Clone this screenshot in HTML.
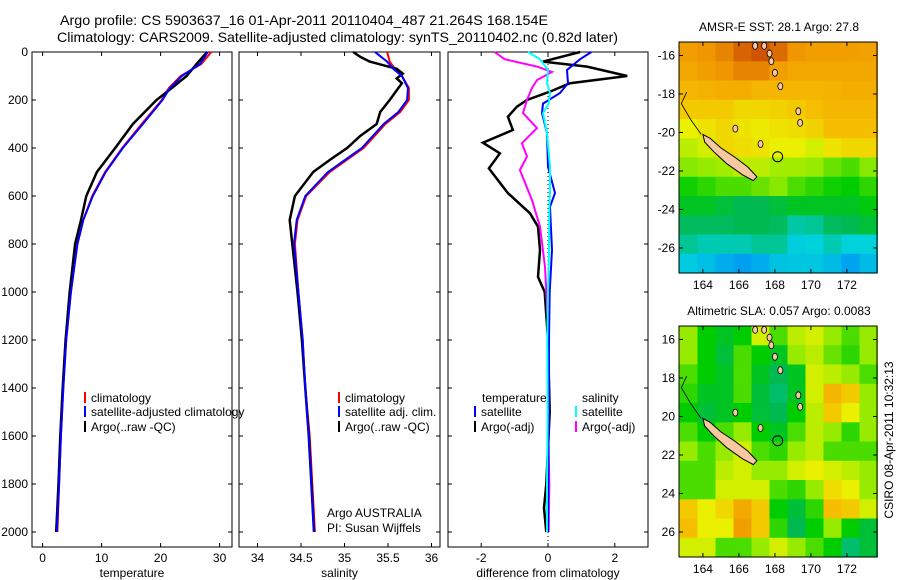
<!DOCTYPE html>
<html><head><meta charset="utf-8">
<style>
body{margin:0;background:#fff;}
svg{display:block;font-family:"Liberation Sans",sans-serif;}
</style></head>
<body>
<svg id="c" width="900" height="580" viewBox="0 0 900 580" xmlns="http://www.w3.org/2000/svg">
<rect width="900" height="580" fill="#fff"/>
<text x="60" y="25" font-size="14" textLength="488" lengthAdjust="spacingAndGlyphs">Argo profile: CS 5903637_16 01-Apr-2011 20110404_487 21.264S 168.154E</text>
<text x="57" y="42" font-size="14" textLength="561" lengthAdjust="spacingAndGlyphs">Climatology: CARS2009. Satellite-adjusted climatology: synTS_20110402.nc (0.82d later)</text>
<g id="g"></g>
</svg>
<script>
// ---------- data ----------
const depthTicks=[0,200,400,600,800,1000,1200,1400,1600,1800,2000];
const tempTicks=[0,10,20,30];
const salTicks=[34,34.5,35,35.5,36];
const salTickLabels=["34","34.5","35","35.5","36"];
const diffTicks=[-2,0,2];
const lonTicks=[164,166,168,170,172];
const latTicks=[-16,-18,-20,-22,-24,-26];

const depthsT=[0,50,100,150,200,300,400,500,600,700,800,1000,1200,1400,1600,1800,2000];
const tempClim=[28.6,26.9,23.4,21.4,20.2,16.8,13.5,10.6,8.4,6.9,5.9,4.8,4.0,3.5,3.1,2.8,2.5];
const tempSat=[28.0,26.7,23.6,21.6,20.3,17.0,13.6,10.7,8.5,6.9,5.9,4.8,4.0,3.5,3.1,2.8,2.4];
const tempArgo=[27.9,26.1,24.4,21.9,19.3,15.3,12.3,9.2,7.4,6.5,5.5,4.6,3.9,3.4,3.0,2.7,2.3];

const depthsS=[0,40,70,100,150,200,250,300,400,500,600,700,800,1000,1200,1400,1600,1800,2000];
const salClim=[35.49,35.52,35.58,35.66,35.74,35.74,35.64,35.47,35.22,34.83,34.56,34.46,34.43,34.47,34.52,34.55,34.6,34.63,34.66];
const salSat=[35.35,35.49,35.56,35.66,35.73,35.72,35.62,35.45,35.2,34.81,34.55,34.45,34.42,34.47,34.52,34.55,34.59,34.62,34.65];
const depthsSA=[0,20,40,70,90,110,130,150,200,250,300,350,400,450,500,600,700,800,1000,1200,1400,1600,1800,2000];
const salArgo=[35.1,35.18,35.29,35.6,35.67,35.6,35.66,35.62,35.52,35.41,35.37,35.18,35.03,34.83,34.64,34.43,34.37,34.4,34.46,34.51,34.55,34.59,34.62,34.65];

const depthsTD=[0,40,61,100,130,165,200,228,270,325,378,422,485,588,672,728,825,937,1000,1200,1500,1800,1900,2000];
const tDiffArgo=[0.96,-0.15,1.17,2.37,0.66,0.06,-0.63,-0.93,-1.2,-1.05,-1.95,-1.44,-1.77,-1.2,-0.54,-0.3,-0.24,-0.3,-0.1,0,0.05,-0.05,-0.12,-0.05];
const depthsD=[0,30,75,130,171,215,254,338,478,588,645,825,1000,1200,1500,1800,2000];
const tDiffSat=[1.3,0.96,0.57,0.6,0.36,-0.15,-0.18,-0.03,0,0.21,0.06,0.12,0.05,0.03,0.02,0.01,0.0];
const sDiffSat=[-0.6,-0.24,0,-0.03,0.06,0.02,-0.15,-0.03,0.06,0.06,0.04,0.03,0.0,-0.02,-0.01,-0.03,-0.03];
const depthsSD=[0,30,61,83,117,150,200,254,317,380,436,492,617,728,895,1000,1200,1500,1800,2000];
const sDiffArgo=[-1.6,-1.3,-0.33,0.12,-0.33,-0.48,-0.63,-0.75,-0.33,-0.78,-0.63,-0.84,-0.48,-0.24,-0.09,-0.05,0.02,0.0,0.04,0.02];

const mapLons=[163.2,164.2,165.2,166.2,167.2,168.2,169.2,170.2,171.2,172.2,173.2];
const mapLats=[-15.8,-16.8,-17.8,-18.8,-19.8,-20.8,-21.8,-22.8,-23.8,-24.8,-25.8,-26.8];
const sstGrid=[
[0.78,0.8,0.82,0.86,0.88,0.85,0.8,0.78,0.78,0.78,0.77],
[0.76,0.78,0.8,0.82,0.82,0.78,0.76,0.76,0.76,0.76,0.76],
[0.72,0.73,0.74,0.74,0.72,0.72,0.72,0.72,0.73,0.74,0.74],
[0.68,0.68,0.68,0.66,0.66,0.67,0.68,0.7,0.72,0.72,0.72],
[0.62,0.64,0.66,0.64,0.63,0.64,0.65,0.67,0.7,0.7,0.7],
[0.58,0.6,0.66,0.65,0.64,0.62,0.62,0.6,0.64,0.66,0.66],
[0.54,0.55,0.56,0.58,0.58,0.56,0.56,0.55,0.52,0.5,0.54],
[0.46,0.48,0.5,0.5,0.52,0.54,0.5,0.48,0.46,0.45,0.48],
[0.42,0.42,0.4,0.38,0.38,0.4,0.42,0.42,0.42,0.42,0.44],
[0.37,0.37,0.37,0.38,0.38,0.37,0.32,0.33,0.37,0.38,0.4],
[0.33,0.31,0.31,0.31,0.33,0.33,0.27,0.28,0.31,0.28,0.28],
[0.26,0.23,0.18,0.15,0.18,0.24,0.25,0.25,0.22,0.16,0.22]];
const slaGrid=[
[0.55,0.45,0.42,0.45,0.6,0.5,0.58,0.6,0.55,0.5,0.55],
[0.55,0.45,0.4,0.5,0.45,0.42,0.55,0.58,0.52,0.48,0.55],
[0.5,0.45,0.42,0.5,0.42,0.38,0.42,0.6,0.58,0.55,0.5],
[0.48,0.42,0.42,0.5,0.4,0.36,0.42,0.6,0.72,0.68,0.55],
[0.45,0.4,0.42,0.45,0.4,0.38,0.45,0.58,0.68,0.62,0.55],
[0.5,0.45,0.5,0.55,0.45,0.42,0.5,0.58,0.55,0.48,0.55],
[0.55,0.5,0.55,0.6,0.5,0.48,0.55,0.58,0.5,0.5,0.5],
[0.5,0.5,0.58,0.6,0.55,0.55,0.6,0.62,0.6,0.58,0.55],
[0.5,0.5,0.6,0.6,0.6,0.5,0.48,0.55,0.65,0.62,0.55],
[0.68,0.62,0.66,0.75,0.68,0.45,0.4,0.48,0.7,0.68,0.6],
[0.7,0.62,0.62,0.78,0.68,0.48,0.38,0.45,0.55,0.45,0.4],
[0.6,0.6,0.5,0.5,0.55,0.6,0.55,0.5,0.45,0.36,0.4]];
const nCalLon=[164.0,164.4,165.0,165.8,166.5,167.0,166.8,166.2,165.3,164.6,164.1];
const nCalLat=[-20.1,-20.3,-20.8,-21.3,-21.8,-22.3,-22.5,-22.2,-21.6,-21.0,-20.5];
const islLon=[166.9,167.4,167.8,168.0,168.3,167.7,169.3,169.4,165.8,167.2];
const islLat=[-15.5,-15.5,-16.3,-16.9,-17.6,-15.9,-18.9,-19.5,-19.8,-20.6];

// ---------- helpers ----------
const NS='http://www.w3.org/2000/svg';
const G=document.getElementById('g');
function mk(tag,attrs,parent){const e=document.createElementNS(NS,tag);for(const k in attrs)e.setAttribute(k,attrs[k]);(parent||G).appendChild(e);return e;}
const yTop=52, yBot=547;
function yD(d){return yTop+d*0.24;}
function txt(x,y,s,anchor,parent){const t=mk('text',{x:x,y:y,'font-size':12,'text-anchor':anchor||'start'},parent);t.textContent=s;return t;}

function panel(name,x0,x1,xf,ticks,labels,xlabel,showY){
  const g=mk('g',{});
  
  
  mk('rect',{x:x0,y:yTop,width:x1-x0,height:yBot-yTop,fill:'none',stroke:'#000','stroke-width':1},g);
  ticks.forEach((v,i)=>{const x=xf(v);
    mk('line',{x1:x,x2:x,y1:yBot,y2:yBot-4,stroke:'#000'},g);
    mk('line',{x1:x,x2:x,y1:yTop,y2:yTop+4,stroke:'#000'},g);
    const t=txt(x,562,labels[i],'middle',g);
    });
  depthTicks.forEach(d=>{const y=yD(d);
    mk('line',{x1:x0,x2:x0+4,y1:y,y2:y,stroke:'#000'},g);
    mk('line',{x1:x1,x2:x1-4,y1:y,y2:y,stroke:'#000'},g);
    if(showY){const t=txt(28,y+4,String(d),'end',g);}});
  const xl=txt((x0+x1)/2,577,xlabel,'middle',g);
  
  return g;
}
function line(name,depths,vals,xf,color,w,parent){
  const pts=depths.map((d,i)=>xf(vals[i]).toFixed(1)+','+yD(d).toFixed(1)).join(' ');
  const p=mk('polyline',{points:pts,fill:'none',stroke:color,'stroke-width':w},parent);
  
  
}
function legend(x,y,color,label,parent){
  mk('rect',{x:x,y:y-10,width:2,height:11,fill:color},parent);
  const t=txt(x+7,y,label,'start',parent);
  
  
}

// temperature panel
const xT=v=>42.6+5.9*v;
const p1=panel('temperature-panel',32,232,xT,tempTicks,tempTicks.map(String),'temperature',true);
line('temp-climatology-line',depthsT,tempClim,xT,'#f00',2,p1);
line('temp-argo-line',depthsT,tempArgo,xT,'#000',2.5,p1);
line('temp-satellite-line',depthsT,tempSat,xT,'#00f',2,p1);
legend(84,402,'#f00','climatology',p1);
legend(84,416,'#00f','satellite-adjusted climatology',p1);
legend(84,431,'#000','Argo(..raw -QC)',p1);

// salinity panel
const xS=v=>257.5+87*(v-34);
const p2=panel('salinity-panel',239,440,xS,salTicks,salTickLabels,'salinity',false);
line('sal-climatology-line',depthsS,salClim,xS,'#f00',2,p2);
line('sal-argo-line',depthsSA,salArgo,xS,'#000',2.5,p2);
line('sal-satellite-line',depthsS,salSat,xS,'#00f',2,p2);
legend(338,402,'#f00','climatology',p2);
legend(338,416,'#00f','satellite adj. clim.',p2);
legend(338,431,'#000','Argo(..raw -QC)',p2);
const a1=txt(327,517,'Argo AUSTRALIA','start',p2);
const a2=txt(327,532,'PI: Susan Wijffels','start',p2);

// difference panel
const xDf=v=>548+33.4*v;
const p3=panel('difference-panel',448,648,xDf,diffTicks,diffTicks.map(String),'difference from climatology',false);
mk('line',{x1:xDf(0),x2:xDf(0),y1:yTop,y2:yBot,stroke:'#000','stroke-dasharray':'1,3'},p3);
line('temp-argo-diff-line',depthsTD,tDiffArgo,xDf,'#000',2.5,p3);
line('sal-argo-diff-line',depthsSD,sDiffArgo,xDf,'#f0f',2,p3);
line('temp-satellite-diff-line',depthsD,tDiffSat,xDf,'#00f',2,p3);
line('sal-satellite-diff-line',depthsD,sDiffSat,xDf,'#0ff',2,p3);
const lt=txt(482,402,'temperature','start',p3);
const ls=txt(582,402,'salinity','start',p3);
legend(474,416,'#00f','satellite',p3);
legend(474,431,'#000','Argo(-adj)',p3);
legend(575,416,'#0ff','satellite',p3);
legend(575,431,'#f0f','Argo(-adj)',p3);

// maps
const stops=[[0,[0,90,255]],[0.15,[0,160,240]],[0.28,[0,210,220]],[0.38,[0,185,80]],[0.45,[0,205,0]],[0.55,[150,235,0]],[0.62,[235,240,0]],[0.7,[245,190,0]],[0.8,[240,150,0]],[0.92,[190,50,0]],[1,[160,20,0]]];
function cmap(v){for(let i=1;i<stops.length;i++){if(v<=stops[i][0]){const a=stops[i-1],b=stops[i];const t=(v-a[0])/(b[0]-a[0]);return 'rgb('+a[1].map((c,k)=>Math.round(c+(b[1][k]-c)*t)).join(',')+')';}}return 'rgb(160,20,0)';}
function map(name,title,grid,top,bot,absLat,titleY){
  const x0=679,x1=877;
  const lonF=l=>x0+(l-162.67)*18;
  const latF=l=>top+(-15.3-l)*((bot-top)/12);
  const g=mk('g',{});
  
  
  const cw=18, ch=(bot-top)/12;
  grid.forEach((row,r)=>row.forEach((v,c)=>{
    const cell=mk('rect',{x:(lonF(mapLons[c])-cw/2).toFixed(1),y:(latF(mapLats[r])-ch/2).toFixed(1),width:cw+0.5,height:ch+0.5,fill:cmap(v)},g);
    
    
  }));
  const pts=nCalLon.map((l,i)=>lonF(l).toFixed(1)+','+latF(nCalLat[i]).toFixed(1)).join(' ');
  const nc=mk('polygon',{points:pts,fill:'#f8c8a0',stroke:'#000','stroke-width':1},g);
  
  islLon.forEach((l,i)=>{const e=mk('ellipse',{cx:lonF(l),cy:latF(islLat[i]),rx:2.5,ry:3.5,fill:'#f8c8a0',stroke:'#000','stroke-width':0.8},g);
    });
  mk('circle',{cx:lonF(168.15),cy:latF(-21.26),r:5,fill:'none',stroke:'#000'},g);
  mk('polyline',{points:[[163.1,-17.9],[162.8,-18.5],[163.3,-19.3],[163.9,-20.1]].map(p=>lonF(p[0])+','+latF(p[1])).join(' '),fill:'none',stroke:'#000','stroke-width':0.8},g);
  mk('rect',{x:x0,y:top,width:x1-x0,height:bot-top,fill:'none',stroke:'#000'},g);
  lonTicks.forEach(l=>{const x=lonF(l);
    mk('line',{x1:x,x2:x,y1:bot,y2:bot-4,stroke:'#000'},g);mk('line',{x1:x,x2:x,y1:top,y2:top+4,stroke:'#000'},g);
    const t=txt(x,bot+16,String(l),'middle',g);});
  latTicks.forEach(l=>{const y=latF(l);
    mk('line',{x1:x0,x2:x0+4,y1:y,y2:y,stroke:'#000'},g);mk('line',{x1:x1,x2:x1-4,y1:y,y2:y,stroke:'#000'},g);
    const t=txt(x0-4,y+4,String(absLat?-l:l),'end',g);});
  const tt=txt(779,titleY,title,'middle',g);
}
map('sst-map','AMSR-E SST: 28.1  Argo: 27.8',sstGrid,42,273,false,31);
map('sla-map','Altimetric SLA: 0.057  Argo: 0.0083',slaGrid,326,557,true,315);
const cs=txt(0,0,'CSIRO 08-Apr-2011 10:32:13','middle');
cs.setAttribute('transform','translate(893,440) rotate(-90)');


</script>
</body></html>
